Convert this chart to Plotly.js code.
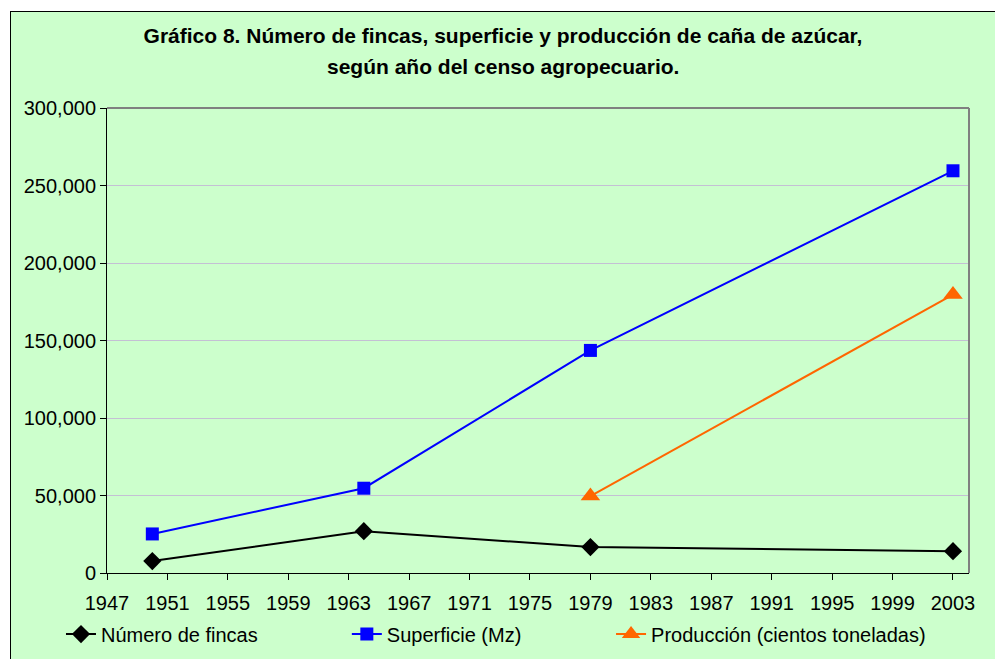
<!DOCTYPE html>
<html>
<head>
<meta charset="utf-8">
<script src="https://cdn.plot.ly/plotly-3.0.1.min.js"></script>
<style>
html, body { margin: 0; padding: 0; background: #ffffff; width: 995px; height: 659px; overflow: hidden; }
#frame { position: absolute; left: 10px; top: 11px; width: 985px; height: 648px;
  border-left: 1px solid #000; border-top: 1px solid #000; background: #CCFFCC; }
#chart { width: 984px; height: 647px; }
</style>
</head>
<body>
<div id="frame"><div id="chart"></div></div>
<script>
// Data
var years = [1950, 1964, 1979, 2003];
var fincas = [7700, 27000, 16700, 14100];
var superficie = [25200, 54700, 143600, 259500];
var prodYears = [1979, 2003];
var produccion = [49600, 179600];
var xTicks = [1947, 1951, 1955, 1959, 1963, 1967, 1971, 1975, 1979, 1983, 1987, 1991, 1995, 1999, 2003];
var yTicks = [0, 50000, 100000, 150000, 200000, 250000, 300000];
var names = ['Número de fincas', 'Superficie (Mz)', 'Producción (cientos toneladas)'];
var titleLine1 = 'Gráfico 8. Número de fincas, superficie y producción de caña de azúcar,';
var titleLine2 = 'según año del censo agropecuario.';

var font = {family: 'Liberation Sans, Arial, sans-serif', size: 20, color: '#000'};
var tfont = {family: 'Liberation Sans, Arial, sans-serif', size: 21, color: '#000'};

var traces = [
  {x: years, y: fincas, name: names[0], mode: 'lines+markers', legend: 'legend',
   line: {color: '#000000', width: 2}, marker: {symbol: 'diamond', size: 14, color: '#000000'}},
  {x: years, y: superficie, name: names[1], mode: 'lines+markers', legend: 'legend2',
   line: {color: '#0000FF', width: 2}, marker: {symbol: 'square', size: 13, color: '#0000FF'}},
  {x: prodYears, y: produccion, name: names[2], mode: 'lines+markers', legend: 'legend3',
   line: {color: '#FF6600', width: 2}, marker: {symbol: 'triangle-up', size: 17, color: '#FF6600'}}
];

function leg(x) {
  return {x: x, xref: 'container', xanchor: 'left', y: 0.0386, yref: 'container', yanchor: 'middle',
    orientation: 'h', bgcolor: 'rgba(0,0,0,0)', borderwidth: 0, font: font};
}

var layout = {
  width: 984, height: 647,
  margin: {l: 96, r: 26, t: 96, b: 86},
  paper_bgcolor: '#CCFFCC', plot_bgcolor: '#CCFFCC',
  font: font,
  title: {text: '<b>' + titleLine1 + '</b>', font: tfont,
    x: 0.5, xanchor: 'center', xref: 'container', y: 0.9629, yanchor: 'middle', yref: 'container'},
  annotations: [
    {text: '<b>' + titleLine2 + '</b>', font: tfont, showarrow: false,
     xref: 'paper', yref: 'paper', x: 0.4594, y: 1.0903, xanchor: 'center', yanchor: 'middle'}
  ],
  showlegend: true,
  legend: leg(0.0508),
  legend2: leg(0.3413),
  legend3: leg(0.6098),
  xaxis: {range: [1947, 2004.06], tickvals: xTicks, ticktext: xTicks.map(String),
    showgrid: false, zeroline: false, showline: true, linecolor: '#000', linewidth: 1,
    ticks: 'outside', ticklen: 6, tickcolor: '#000', tickfont: font, ticklabelstandoff: 6, fixedrange: true},
  yaxis: {range: [0, 300000], tickvals: yTicks, tickformat: ',', showgrid: true,
    gridcolor: '#C4C0D4', gridwidth: 1, zeroline: false, showline: true, linecolor: '#000',
    linewidth: 1, ticks: 'outside', ticklen: 6, tickcolor: '#000', tickfont: font, fixedrange: true},
  shapes: [
    {type: 'line', xref: 'paper', yref: 'paper', x0: 0, x1: 1, y0: 1, y1: 1,
     line: {color: '#808080', width: 2}},
    {type: 'line', xref: 'paper', yref: 'paper', x0: 1, x1: 1, y0: 0, y1: 1,
     line: {color: '#808080', width: 2}}
  ]
};

Plotly.newPlot('chart', traces, layout, {displayModeBar: false, staticPlot: true});
</script>
</body>
</html>
